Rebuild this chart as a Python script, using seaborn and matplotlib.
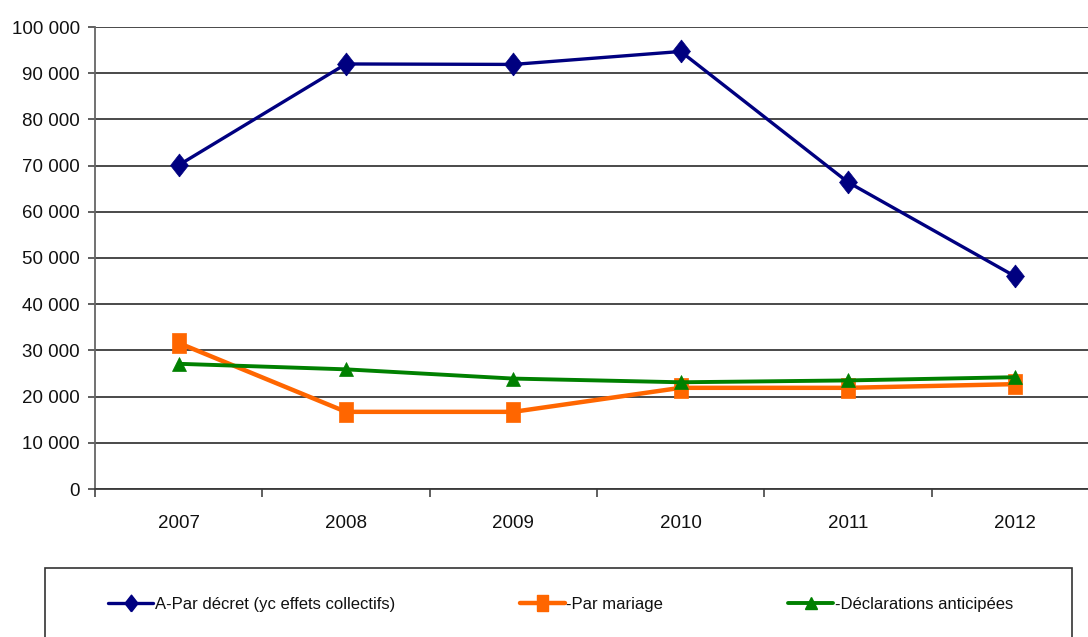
import numpy as np
import pandas as pd
import matplotlib
matplotlib.use("Agg")
import matplotlib.pyplot as plt
import seaborn as sns
from matplotlib.lines import Line2D
from matplotlib.patches import Rectangle
from matplotlib.ticker import FuncFormatter, FixedLocator

years = ["2007", "2008", "2009", "2010", "2011", "2012"]
decret = [70100, 92000, 91900, 94700, 66400, 46000]
mariage = [31600, 16700, 16700, 21900, 21900, 22700]
declarations = [27100, 25900, 23900, 23100, 23500, 24200]
series_labels = ["A-Par décret (yc effets collectifs)", "-Par mariage", "-Déclarations anticipées"]
colors = ["#000080", "#FF6600", "#008000"]

sns.set_theme(style="white")
plt.rcParams["font.family"] = ["Liberation Sans", "DejaVu Sans"]
plt.rcParams["text.color"] = "#111111"
plt.rcParams["xtick.color"] = "#444444"
plt.rcParams["ytick.color"] = "#444444"
plt.rcParams["xtick.labelcolor"] = "#111111"
plt.rcParams["ytick.labelcolor"] = "#111111"

rect_marker = [(-0.72, -1), (0.72, -1), (0.72, 1), (-0.72, 1), (-0.72, -1)]
diamond_marker = [(0, -1), (0.78, 0), (0, 1), (-0.78, 0), (0, -1)]

fig = plt.figure(figsize=(10.88, 6.37), dpi=100)
ax = fig.add_axes([95 / 1088, 148 / 637, 1004 / 1088, 462 / 637])

styles = [
    dict(marker=diamond_marker, markersize=16.5, linewidth=2.4),
    dict(marker=rect_marker, markersize=14, linewidth=3.2),
    dict(marker="^", markersize=9.5, linewidth=2.8),
]
data = [decret, mariage, declarations]
for vals, lab, col, st in zip(data, series_labels, colors, styles):
    sns.lineplot(x=years, y=vals, ax=ax, color=col, label=lab,
                 markeredgecolor=col, markeredgewidth=0.5, **st)

leg = ax.get_legend()
if leg is not None:
    leg.remove()

ax.set_xlim(-0.5, 5.5)
ax.set_ylim(0, 100000)
ax.set_yticks(range(0, 100001, 10000))
ax.yaxis.set_major_formatter(FuncFormatter(lambda v, p: f"{int(v):,}".replace(",", " ")))
ax.yaxis.grid(True, color="#3a3a3a", linewidth=1.3)
ax.xaxis.grid(False)
ax.set_axisbelow(True)
ax.xaxis.set_minor_locator(FixedLocator(np.arange(-0.5, 5.6, 1)))
ax.tick_params(axis="x", which="major", bottom=True, length=0, pad=19, labelsize=13.5)
ax.tick_params(axis="x", which="minor", bottom=True, length=6, width=1.2, direction="out")
ax.tick_params(axis="y", which="major", left=True, length=5, width=1.2, pad=6, labelsize=13.5)
ax.set_xlabel("")
ax.set_ylabel("")
for s in ["top", "right"]:
    ax.spines[s].set_visible(False)
ax.spines["left"].set_color("#666666")
ax.spines["left"].set_linewidth(1.3)
ax.spines["bottom"].set_color("#3a3a3a")
ax.spines["bottom"].set_linewidth(1.3)

handles = [
    Line2D([], [], color=colors[0], lw=2.4, marker=diamond_marker, markersize=12, markeredgecolor=colors[0]),
    Line2D([], [], color=colors[1], lw=3.2, marker=rect_marker, markersize=11, markeredgecolor=colors[1]),
    Line2D([], [], color=colors[2], lw=2.8, marker="^", markersize=8, markeredgecolor=colors[2]),
]
fig.legend(handles, series_labels, loc="center",
           bbox_to_anchor=(108 / 1088, 1 - 604 / 637, (1013 - 108) / 1088, 0),
           mode="expand", ncol=3, frameon=False, borderpad=0, borderaxespad=0,
           handlelength=2.7, handletextpad=0.1, fontsize=12, numpoints=1)
fig.patches.append(Rectangle((45 / 1088, -0.01), (1072 - 45) / 1088, (637 - 568) / 637 + 0.01,
                             transform=fig.transFigure, fill=False,
                             edgecolor="#333333", linewidth=1.2))

fig.savefig("out.png", dpi=100)
